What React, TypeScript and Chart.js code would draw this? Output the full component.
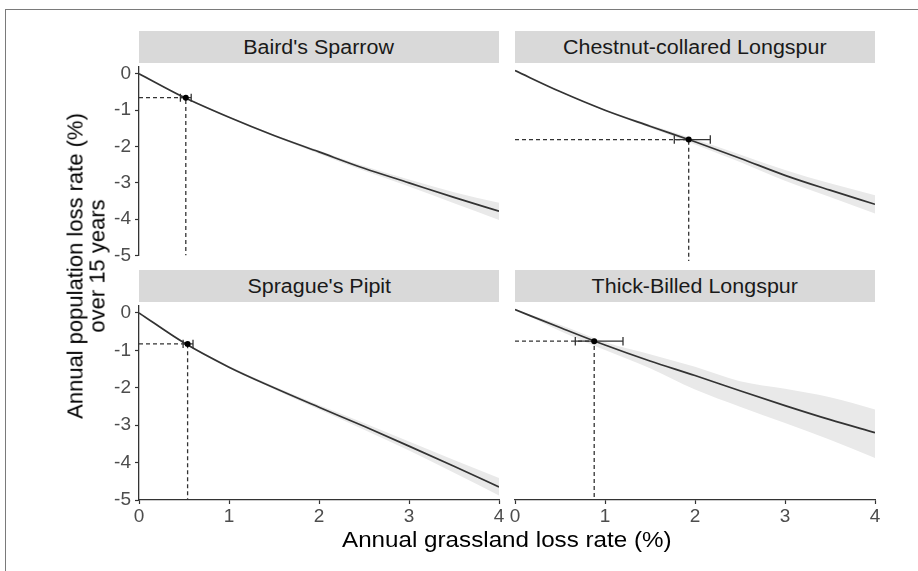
import React, { useEffect, useRef } from "react";
import { Chart, registerables } from "chart.js";

Chart.register(...registerables);

// ---------- data ----------
const X_VALUES = [0, 0.5, 1, 1.5, 2, 2.5, 3, 3.5, 4];
const X_TICKS = [0, 1, 2, 3, 4];
const Y_TICKS = [0, -1, -2, -3, -4, -5];
const Y_MIN = -5;
const Y_MAX = 0.2;

const SPECIES = [
  "Baird's Sparrow",
  "Chestnut-collared Longspur",
  "Sprague's Pipit",
  "Thick-Billed Longspur",
];

const BAIRD_FIT = [0, -0.65, -1.2, -1.7, -2.15, -2.6, -3.0, -3.4, -3.78];
const BAIRD_UPPER = [0, -0.63, -1.18, -1.67, -2.11, -2.54, -2.91, -3.26, -3.55];
const BAIRD_LOWER = [0, -0.67, -1.22, -1.73, -2.2, -2.67, -3.1, -3.56, -4.02];

const CHESTNUT_FIT = [0, -0.55, -1.04, -1.46, -1.87, -2.3, -2.75, -3.14, -3.51];
const CHESTNUT_UPPER = [0, -0.54, -1.02, -1.42, -1.8, -2.2, -2.61, -2.96, -3.27];
const CHESTNUT_LOWER = [0, -0.56, -1.06, -1.5, -1.94, -2.4, -2.89, -3.32, -3.75];

const SPRAGUE_FIT = [0, -0.8, -1.45, -2.0, -2.52, -3.03, -3.56, -4.1, -4.65];
const SPRAGUE_UPPER = [0, -0.78, -1.42, -1.96, -2.46, -2.94, -3.44, -3.93, -4.41];
const SPRAGUE_LOWER = [0, -0.82, -1.48, -2.04, -2.58, -3.12, -3.68, -4.27, -4.88];

const THICK_FIT = [0, -0.47, -0.93, -1.35, -1.73, -2.13, -2.52, -2.89, -3.23];
const THICK_UPPER = [0, -0.4, -0.85, -1.17, -1.5, -1.88, -2.08, -2.3, -2.62];
const THICK_LOWER = [0, -0.56, -1.06, -1.54, -2.1, -2.55, -2.98, -3.42, -3.9];

// point estimates with horizontal error bars
const EST_X = [0.52, 1.93, 0.54, 0.88];
const EST_Y = [-0.66, -1.81, -0.83, -0.83];
const EST_XLO = [0.46, 1.77, 0.49, 0.67];
const EST_XHI = [0.58, 2.17, 0.6, 1.2];

const FITS = [BAIRD_FIT, CHESTNUT_FIT, SPRAGUE_FIT, THICK_FIT];
const UPPERS = [BAIRD_UPPER, CHESTNUT_UPPER, SPRAGUE_UPPER, THICK_UPPER];
const LOWERS = [BAIRD_LOWER, CHESTNUT_LOWER, SPRAGUE_LOWER, THICK_LOWER];

// ---------- layout ----------
const FONT = '"Liberation Sans", Arial, Helvetica, sans-serif';
const AREAS = [
  { l: 139, t: 63, r: 499, b: 261 },
  { l: 515, t: 63, r: 875, b: 261 },
  { l: 139, t: 302, r: 499, b: 500 },
  { l: 515, t: 302, r: 875, b: 500 },
];
const STRIP_H = 32;
const Y_AXIS_W = 46;
const X_AXIS_H = 34;
const PAD_T = 12;
const PAD_R = 8;
const PAD_L = 8;
const PAD_B = 10;

function Panel({ idx }: { idx: number }) {
  const ref = useRef<HTMLCanvasElement>(null);
  const area = AREAS[idx];
  const showY = idx % 2 === 0;
  const showX = idx >= 2;
  const leftExtra = showY ? Y_AXIS_W : PAD_L;
  const left = area.l - leftExtra;
  const top = area.t - PAD_T;
  const width = leftExtra + (area.r - area.l) + PAD_R;
  const height = PAD_T + (area.b - area.t) + (showX ? X_AXIS_H : PAD_B);

  useEffect(() => {
    if (!ref.current) return;
    const fit = FITS[idx];
    const up = UPPERS[idx];
    const lo = LOWERS[idx];
    const px = EST_X[idx];
    const py = EST_Y[idx];
    const xlo = EST_XLO[idx];
    const xhi = EST_XHI[idx];
    const cap = 0.11;
    const chart = new Chart(ref.current, {
      type: "line",
      data: {
        datasets: [
          {
            data: X_VALUES.map((x, j) => ({ x, y: up[j] })),
            borderWidth: 0,
            pointRadius: 0,
            fill: "+1",
            backgroundColor: "#e9e9e9",
            cubicInterpolationMode: "monotone",
            order: 10,
          },
          {
            data: X_VALUES.map((x, j) => ({ x, y: lo[j] })),
            borderWidth: 0,
            pointRadius: 0,
            fill: false,
            cubicInterpolationMode: "monotone",
            order: 11,
          },
          {
            data: X_VALUES.map((x, j) => ({ x, y: fit[j] })),
            borderColor: "#333333",
            borderWidth: 1.7,
            pointRadius: 0,
            fill: false,
            cubicInterpolationMode: "monotone",
            order: 3,
          },
          {
            data: [
              { x: 0, y: py },
              { x: px, y: py },
              { x: px, y: Y_MIN },
            ],
            borderColor: "#333333",
            borderWidth: 1.3,
            borderDash: [4, 3],
            pointRadius: 0,
            fill: false,
            tension: 0,
            order: 4,
          },
          {
            data: [
              { x: xlo, y: py + cap },
              { x: xlo, y: py - cap },
              { x: xlo, y: null },
              { x: xlo, y: py },
              { x: xhi, y: py },
              { x: xhi, y: null },
              { x: xhi, y: py + cap },
              { x: xhi, y: py - cap },
            ],
            borderColor: "#333333",
            borderWidth: 1.3,
            pointRadius: 0,
            fill: false,
            spanGaps: false,
            tension: 0,
            order: 2,
          },
          {
            data: [{ x: px, y: py }],
            showLine: false,
            pointRadius: 3,
            pointBackgroundColor: "#000",
            pointBorderWidth: 0,
            order: 1,
          },
        ],
      } as any,
      options: {
        responsive: false,
        animation: false,
        events: [],
        layout: {
          padding: {
            left: showY ? 0 : PAD_L,
            right: PAD_R,
            top: PAD_T,
            bottom: showX ? 0 : PAD_B,
          },
        },
        plugins: {
          legend: { display: false },
          tooltip: { enabled: false },
          title: { display: false },
          filler: { drawTime: "beforeDatasetsDraw" },
        },
        scales: {
          x: {
            type: "linear",
            min: 0,
            max: 4,
            display: showX,
            afterBuildTicks: (s: any) => {
              s.ticks = X_TICKS.map((v) => ({ value: v }));
            },
            afterFit: (s: any) => {
              if (showX) s.height = X_AXIS_H;
            },
            ticks: {
              color: "#4d4d4d",
              font: { family: FONT, size: 19 },
              padding: 1,
              maxRotation: 0,
              autoSkip: false,
              callback: (v: any) => String(v),
            },
            grid: {
              display: true,
              drawOnChartArea: false,
              drawTicks: true,
              tickLength: 4,
              tickColor: "#333333",
              tickWidth: 1.2,
            },
            border: { display: true, color: "#333333", width: 1.3 },
          },
          y: {
            type: "linear",
            min: Y_MIN,
            max: Y_MAX,
            display: showY,
            afterBuildTicks: (s: any) => {
              s.ticks = Y_TICKS.map((v) => ({ value: v }));
            },
            afterFit: (s: any) => {
              if (showY) s.width = Y_AXIS_W;
            },
            ticks: {
              color: "#4d4d4d",
              font: { family: FONT, size: 19 },
              padding: 4,
              autoSkip: false,
              callback: (v: any) => String(v),
            },
            grid: {
              display: true,
              drawOnChartArea: false,
              drawTicks: true,
              tickLength: 4,
              tickColor: "#333333",
              tickWidth: 1.2,
            },
            border: { display: true, color: "#333333", width: 1.3 },
          },
        },
      } as any,
    });
    return () => chart.destroy();
  }, [idx]);

  return (
    <canvas
      ref={ref}
      width={width}
      height={height}
      style={{ position: "absolute", left, top, width, height }}
    />
  );
}

function Strip({ idx }: { idx: number }) {
  const a = AREAS[idx];
  return (
    <div
      style={{
        position: "absolute",
        left: a.l,
        top: a.t - STRIP_H,
        width: a.r - a.l,
        height: STRIP_H,
        background: "#d9d9d9",
        display: "flex",
        alignItems: "center",
        justifyContent: "center",
        color: "#1a1a1a",
        fontSize: 19.5,
        fontFamily: FONT,
        whiteSpace: "nowrap",
      }}
    >
      <span style={{ display: "inline-block", transform: "scaleX(1.1)" }}>
        {SPECIES[idx]}
      </span>
    </div>
  );
}

export default function App() {
  return (
    <div
      style={{
        position: "fixed",
        left: 0,
        top: 0,
        width: 918,
        height: 571,
        background: "#ffffff",
        overflow: "hidden",
        fontFamily: FONT,
      }}
    >
      <div
        style={{
          position: "absolute",
          left: 5,
          top: 9,
          right: 0,
          bottom: 0,
          borderTop: "1px solid #7a7a7a",
          borderLeft: "1px solid #7a7a7a",
        }}
      />
      {[0, 1, 2, 3].map((i) => (
        <Strip key={"s" + i} idx={i} />
      ))}
      {[0, 1, 2, 3].map((i) => (
        <Panel key={"p" + i} idx={i} />
      ))}
      <div
        style={{
          position: "absolute",
          left: 139,
          width: 875 - 139,
          top: 529,
          height: 22,
          lineHeight: "22px",
          fontSize: 22,
          textAlign: "center",
          color: "#000",
          whiteSpace: "nowrap",
        }}
      >
        <span style={{ display: "inline-block", transform: "scaleX(1.1)" }}>
          Annual grassland loss rate (%)
        </span>
      </div>
      <div style={{ position: "absolute", left: 86, top: 265.5, width: 0, height: 0 }}>
        <div
          style={{
            position: "absolute",
            left: 0,
            top: 0,
            transform: "translate(-50%, -50%) rotate(-90deg)",
            fontSize: 22,
            lineHeight: "21.5px",
            textAlign: "center",
            whiteSpace: "nowrap",
            color: "#000",
          }}
        >
          Annual population loss rate (%)
          <br />
          over 15 years
        </div>
      </div>
    </div>
  );
}
